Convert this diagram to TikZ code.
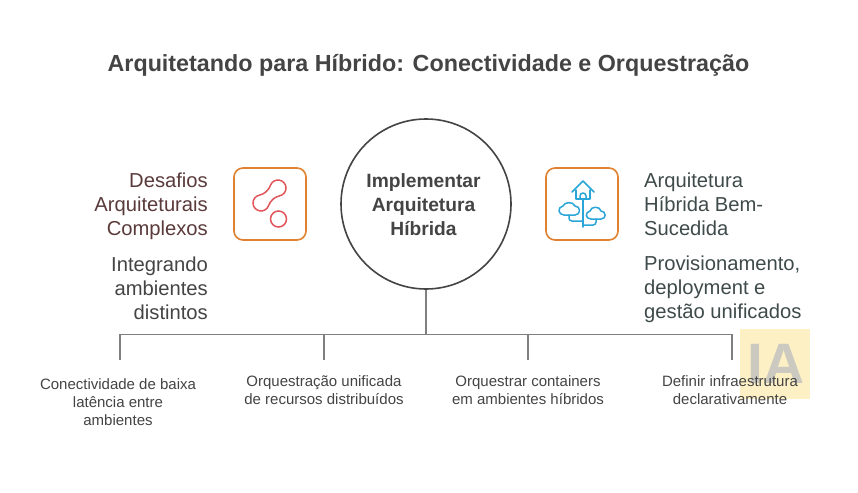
\documentclass[tikz,border=0pt]{standalone}
\usepackage{fontspec}
\setmainfont{Liberation Sans}
\definecolor{ink}{HTML}{444444}
\definecolor{wine}{HTML}{5A3A3A}
\definecolor{slateink}{HTML}{3F4A4A}
\definecolor{edge}{HTML}{E0812F}
\definecolor{redicon}{HTML}{E2555A}
\definecolor{blueicon}{HTML}{2AA5D8}
\definecolor{linegray}{HTML}{7F7F7F}
\definecolor{wmyellow}{HTML}{FDF0C4}
\definecolor{wmgray}{HTML}{CBC9C0}
\tikzset{
  titlefont/.style={font=\fontsize{23.3}{28}\selectfont\bfseries,text=ink},
  hub/.style={circle,draw=ink,line width=1.6pt,minimum size=170pt,inner sep=0pt},
  hubtext/.style={inner sep=0pt,align=center,font=\fontsize{19.2}{24}\selectfont\bfseries,text=ink},
  iconbox/.style={draw=edge,line width=1.6pt,rounded corners=9pt,minimum size=72pt,inner sep=0pt},
  lefttext/.style={anchor=east,align=right,font=\fontsize{20.2}{24}\selectfont,inner sep=0pt},
  righttext/.style={anchor=west,align=left,font=\fontsize{20.2}{24}\selectfont,inner sep=0pt},
  smalltext/.style={align=center,font=\fontsize{15}{18}\selectfont,text=ink,inner sep=0pt},
  branch/.style={draw=linegray,line width=1.4pt},
  redstroke/.style={draw=redicon,line width=1.5pt},
  bluestroke/.style={draw=blueicon,line width=1.5pt,line cap=round,line join=round},
}
\begin{document}
\begin{tikzpicture}[x=1pt,y=-1pt]
\useasboundingbox (0,0) rectangle (858,492);
\fill[white] (0,0) rectangle (858,492);
% watermark
\fill[wmyellow] (740,329) rectangle (810,399);
\node[inner sep=0pt,font=\fontsize{57}{57}\selectfont\bfseries,text=wmgray] (wm) at (776,363.5) {IA};
% title
\node[titlefont,inner sep=0pt] (title) at (428.5,65) {Arquitetando para Híbrido: Conectividade e Orquestração};
% hub
\node[hub] (hub) at (426,204) {};
\node[hubtext] (hublabel) at (423.5,205) {Implementar\\Arquitetura\\Híbrida};
% tree
\coordinate (junction) at (426,334);
\coordinate (b1) at (120,334.5);
\coordinate (b2) at (324,334.5);
\coordinate (b3) at (528,334.5);
\coordinate (b4) at (732,334.5);
\coordinate (d1) at (120,360);
\coordinate (d2) at (324,360);
\coordinate (d3) at (528,360);
\coordinate (d4) at (732,360);
\draw[branch] (hub.south) -- (junction);
\draw[branch,line join=miter] (d1) -- (b1) -- (b4) -- (d4);
\draw[branch] (b2) -- (d2);
\draw[branch] (b3) -- (d3);
% icon boxes
\node[iconbox] (lbox) at (270,204) {};
\node[iconbox] (rbox) at (582,204) {};
% left icon
\draw[redstroke] (278.5,219) circle (8);
\draw[redstroke] (270.4,185.4)
  .. controls (271.7,181.8) and (275.4,179.5) .. (279.2,180.1)
  .. controls (283,180.7) and (285.9,183.9) .. (286,187.8)
  .. controls (286.1,191.7) and (283.5,195) .. (279.7,195.8)
  .. controls (274.7,196.8) and (270.2,200.9) .. (268.6,205.6)
  .. controls (267.3,209.2) and (263.6,211.5) .. (259.8,210.9)
  .. controls (256,210.3) and (253.1,207.1) .. (253,203.2)
  .. controls (252.9,199.3) and (255.5,196) .. (259.3,195.2)
  .. controls (264.3,194.2) and (268.8,190.1) .. (270.4,185.4) -- cycle;
% right icon
\draw[bluestroke] (583,199) -- (583,227);
\draw[bluestroke] (572,192) -- (583,181) -- (594,192);
\draw[bluestroke] (576,190) -- (576,199) -- (590,199) -- (590,190);
\draw[bluestroke] (580,199) -- (580,196) .. controls (580,192) and (586,192) .. (586,196) -- (586,199);
\draw[bluestroke] (564,215) .. controls (558,215) and (557,207) .. (563,206)
  .. controls (564,202) and (573,201) .. (575,206)
  .. controls (581,206) and (581,215) .. (575,215) -- cycle;
\draw[bluestroke] (591,219) .. controls (585,219) and (585,212) .. (590,211)
  .. controls (591,206) and (600,206) .. (601,211)
  .. controls (606,211) and (607,219) .. (601,219) -- cycle;
\draw[bluestroke] (569,215) -- (569,218) .. controls (569,220) and (570,221) .. (572,221) -- (583,221);
\draw[bluestroke] (583,225) -- (593,225) .. controls (595,225) and (596,224) .. (596,222) -- (596,219);
% side text
\node[lefttext,text=wine] (ltop) at (208,206) {Desafios\\Arquiteturais\\Complexos};
\node[lefttext,text=ink] (lbot) at (208,288.5) {Integrando\\ambientes\\distintos};
\node[righttext,text=slateink] (rtop) at (644,204.5) {Arquitetura\\Híbrida Bem-\\Sucedida};
\node[righttext,text=slateink] (rbot) at (644,289) {Provisionamento,\\deployment e\\gestão unificados};
% bottom text
\node[smalltext] (t1) at (118,402) {Conectividade de baixa\\latência entre\\ambientes};
\node[smalltext] (t2) at (324,390) {Orquestração unificada\\de recursos distribuídos};
\node[smalltext] (t3) at (528,390) {Orquestrar containers\\em ambientes híbridos};
\node[smalltext] (t4) at (730,390) {Definir infraestrutura\\declarativamente};
\end{tikzpicture}
\end{document}
